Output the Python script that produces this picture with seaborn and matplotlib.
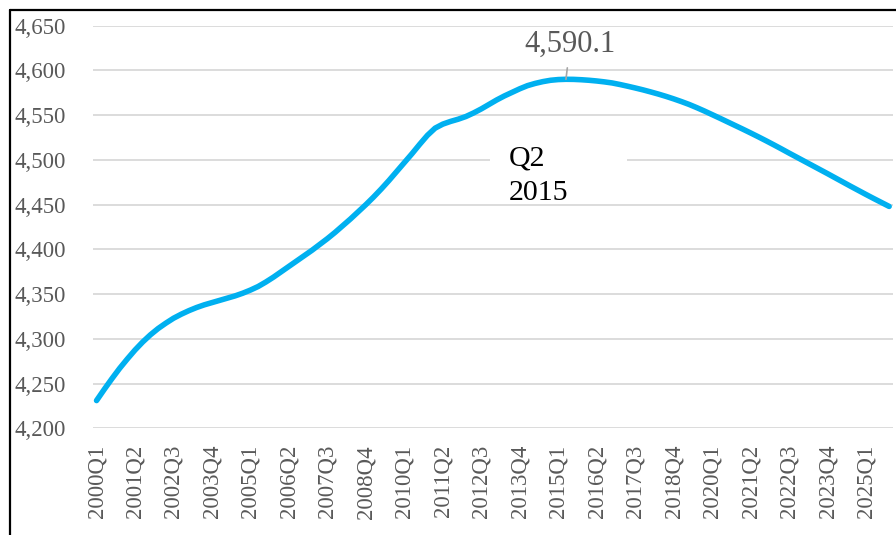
import matplotlib
matplotlib.use("Agg")
import matplotlib.pyplot as plt
import seaborn as sns
import pandas as pd
from matplotlib.lines import Line2D
from matplotlib.patches import Rectangle

years = list(range(2000, 2026))
quarters = [f"{y}Q{q}" for y in years for q in range(1, 5)]

values = [
    4231, 4243.5, 4255.5, 4267, 4277.5, 4287.5, 4296.5, 4304.5, 4311.5, 4317.5,
    4323, 4327.5, 4331.5, 4335, 4338, 4340.5, 4343, 4345.5, 4348, 4351,
    4354.5, 4358.5, 4363.5, 4369, 4375, 4381, 4387, 4393, 4399, 4405.5,
    4412, 4419, 4426.5, 4434, 4442, 4450, 4458.5, 4467.5, 4477, 4487,
    4497, 4507, 4517.5, 4527.5, 4535.5, 4540, 4543, 4545.5, 4548.5, 4552.5,
    4557, 4562, 4567, 4571.5, 4575.5, 4579.5, 4583, 4585.5, 4587.5, 4589,
    4589.8, 4590.1, 4590, 4589.6, 4589, 4588.2, 4587.2, 4586, 4584.3, 4582.4,
    4580.4, 4578.3, 4576, 4573.6, 4571, 4568.2, 4565.2, 4562, 4558.4, 4554.6,
    4550.6, 4546.6, 4542.5, 4538.4, 4534.3, 4530.1, 4525.8, 4521.4, 4516.9, 4512.3,
    4507.6, 4503, 4498.4, 4493.8, 4489.2, 4484.6, 4479.9, 4475.2, 4470.5, 4465.9,
    4461.3, 4456.8, 4452.4, 4448,
]

y_ticks = [4200, 4250, 4300, 4350, 4400, 4450, 4500, 4550, 4600, 4650]
peak_label = "4,590.1"
peak_note = "Q2\n2015"

df = pd.DataFrame({"quarter": quarters, "value": values})
df["idx"] = range(len(df))

sns.set_theme(style="white")
plt.rcParams["font.family"] = ["Liberation Serif", "DejaVu Serif"]

fig = plt.figure(figsize=(8.96, 5.35), dpi=100)
ax = fig.add_axes([92.7 / 896, 1 - 428.3 / 535, (893 - 92.7) / 896, (428.3 - 25.7) / 535])

sns.lineplot(data=df, x="idx", y="value", ax=ax, color="#00B0F0", linewidth=4.0,
             solid_capstyle="round", solid_joinstyle="round", zorder=3)

n = len(df)
ax.set_xlim(-0.5, n - 0.5)
ax.set_ylim(y_ticks[0], y_ticks[-1])
ax.set_yticks(y_ticks)
ax.set_yticklabels([f"{v:,}" for v in y_ticks])
tick_pos = list(range(0, n, 5))
ax.set_xticks(tick_pos)
ax.set_xticklabels([quarters[i] for i in tick_pos], rotation=90)
ax.grid(axis="y", color="#d9d9d9", linewidth=1.3, zorder=0)
ax.grid(axis="x", visible=False)
for s in ax.spines.values():
    s.set_visible(False)
ax.tick_params(axis="both", length=0, labelcolor="#595959", labelsize=16.5)
ax.tick_params(axis="y", pad=19)
ax.tick_params(axis="x", pad=12)
ax.set_xlabel("")
ax.set_ylabel("")
ax.set_axisbelow(True)

# peak annotation
pk = df["value"].idxmax()
ax.annotate(peak_label, xy=(pk, df.loc[pk, "value"]), xytext=(3, 25),
            textcoords="offset points", ha="center", va="center",
            fontsize=22, color="#595959",
            arrowprops=dict(arrowstyle="-", color="#a6a6a6", lw=1.2,
                            shrinkA=4, shrinkB=0), zorder=4)

# white note box and text
ax.add_patch(Rectangle(((490 - 92.7) / (893 - 92.7), (428.3 - 172) / (428.3 - 25.7)),
                       (627 - 490) / (893 - 92.7), 25 / (428.3 - 25.7),
                       transform=ax.transAxes, facecolor="white", edgecolor="none", zorder=2))
ax.text((509 - 92.7) / (893 - 92.7), (428.3 - 176) / (428.3 - 25.7), peak_note,
        transform=ax.transAxes, ha="left", va="center", fontsize=21.5,
        color="black", linespacing=1.45, zorder=5)

# outer frame (left and top)
fig.add_artist(Line2D([10 / 896, 10 / 896], [0, 1 - 9.5 / 535], transform=fig.transFigure,
                      color="black", linewidth=1.6))
fig.add_artist(Line2D([10 / 896, 1], [1 - 9.5 / 535, 1 - 9.5 / 535], transform=fig.transFigure,
                      color="black", linewidth=1.6))

fig.savefig("out.png", dpi=100)
